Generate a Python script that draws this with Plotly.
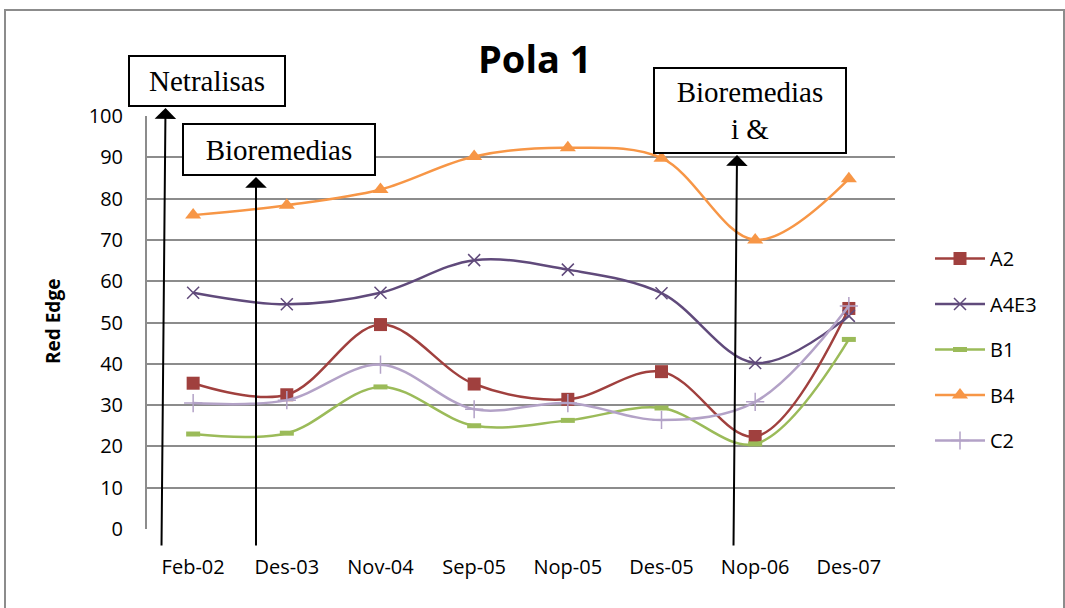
import plotly.graph_objects as go

categories = ["Feb-02", "Des-03", "Nov-04", "Sep-05", "Nop-05", "Des-05", "Nop-06", "Des-07"]
A2 = [35.3, 32.5, 49.5, 35.1, 31.4, 38.1, 22.4, 53.4]
A4E3 = [57.2, 54.4, 57.2, 65.1, 62.8, 57.1, 40.2, 51.6]
B1 = [23.0, 23.2, 34.4, 25.0, 26.3, 29.3, 20.6, 45.9]
B4 = [76.0, 78.4, 82.2, 90.2, 92.3, 89.8, 70.0, 84.8]
C2 = [30.5, 31.2, 39.8, 29.0, 30.5, 26.4, 30.8, 54.0]
series_names = ["A2", "A4E3", "B1", "B4", "C2"]
title_text = "Pola 1"
y_title = "Red Edge"
y_ticks = [0, 10, 20, 30, 40, 50, 60, 70, 80, 90, 100]

W, H = 1065, 608
L, R, T, B = 147, 895, 116, 529
FONT = "Open Sans"


def px(x):
    return (x - L) / (R - L)


def py(y):
    return (B - y) / (B - T)


styles = {
    "A2": dict(color="#A0403E", symbol="square", size=13, lw=0),
    "A4E3": dict(color="#604A7B", symbol="x-thin", size=12, lw=1.5),
    "B1": dict(color="#9BBB59", symbol="line-ew", size=10, lw=5),
    "B4": dict(color="#F79646", symbol="triangle-up", size=14, lw=0),
    "C2": dict(color="#B3A2C7", symbol="cross-thin", size=13, lw=1.5),
}
values = {"A2": A2, "A4E3": A4E3, "B1": B1, "B4": B4, "C2": C2}

fig = go.Figure()
for name in series_names:
    s = styles[name]
    fig.add_trace(go.Scatter(
        x=categories, y=values[name], name=name, mode="lines+markers",
        legendgroup=name,
        line=dict(color=s["color"], width=2.5, shape="spline", smoothing=1.0),
        marker=dict(symbol=s["symbol"], size=s["size"], color=s["color"],
                    line=dict(color=s["color"], width=s["lw"])),
    ))

shapes = [dict(type="rect", xref="paper", yref="paper",
               x0=px(5), x1=px(1064), y0=py(640), y1=py(10),
               line=dict(color="#8C8C8C", width=2), fillcolor="rgba(0,0,0,0)", layer="below")]

annotations = []
# arrows
for hx, hy, tx, ty in [(165.5, 108, 161.5, 547), (256, 177, 256, 547), (737, 155, 733.5, 547)]:
    annotations.append(dict(xref="paper", yref="paper", x=px(hx), y=py(hy), text="",
                            showarrow=True, axref="pixel", ayref="pixel",
                            ax=tx - hx, ay=ty - hy, arrowhead=1, arrowsize=1.8,
                            arrowwidth=2, arrowcolor="black", standoff=0))
# boxes
for left, top, w, h, txt in [(128.3, 55, 158, 52, "Netralisas"),
                              (182, 123, 194, 53, "Bioremedias"),
                              (653, 67, 194, 87, "Bioremedias<br>i &")]:
    annotations.append(dict(xref="paper", yref="paper", x=px(left), y=py(top),
                            xanchor="left", yanchor="top", text=txt, showarrow=False,
                            width=w - 4, height=h - 4, borderpad=0, borderwidth=2,
                            bordercolor="black", bgcolor="white", align="center",
                            font=dict(family="Liberation Serif", size=29, color="black")))
# title
annotations.append(dict(xref="paper", yref="paper", x=px(535), y=py(58), text="<b>" + title_text + "</b>",
                        showarrow=False, xanchor="center", yanchor="middle",
                        font=dict(family=FONT, size=38, color="black")))
annotations.append(dict(xref="paper", yref="paper", x=px(53), y=py(322), text="<b>" + y_title + "</b>",
                        showarrow=False, xanchor="center", yanchor="middle", textangle=-90,
                        font=dict(family=FONT, size=19, color="black")))

fig.update_layout(
    width=W, height=H,
    margin=dict(l=L, r=W - R, t=T, b=H - B, pad=0),
    paper_bgcolor="white", plot_bgcolor="white",
    font=dict(family=FONT, size=20, color="black"),
    showlegend=True,
    legend=dict(x=px(930), y=py(239), xanchor="left", yanchor="top",
                traceorder="grouped", tracegroupgap=16.5, itemwidth=50,
                font=dict(family=FONT, size=20, color="black"), bgcolor="rgba(0,0,0,0)"),
    xaxis=dict(type="category", categoryorder="array", categoryarray=categories,
               showgrid=False, showline=False, ticks="", ticklabelstandoff=24,
               tickfont=dict(family=FONT, size=20), zeroline=False),
    yaxis=dict(range=[0, 100], tickvals=y_ticks, showgrid=True, gridcolor="#8C8C8C",
               gridwidth=2, showline=True, linecolor="#8C8C8C", linewidth=2,
               ticks="", ticklabelstandoff=18, zeroline=False,
               tickfont=dict(family=FONT, size=20)),
    shapes=shapes, annotations=annotations,
)

fig.write_html("out.html", config={"displayModeBar": False},
               post_script="document.body.style.margin='0px';")
